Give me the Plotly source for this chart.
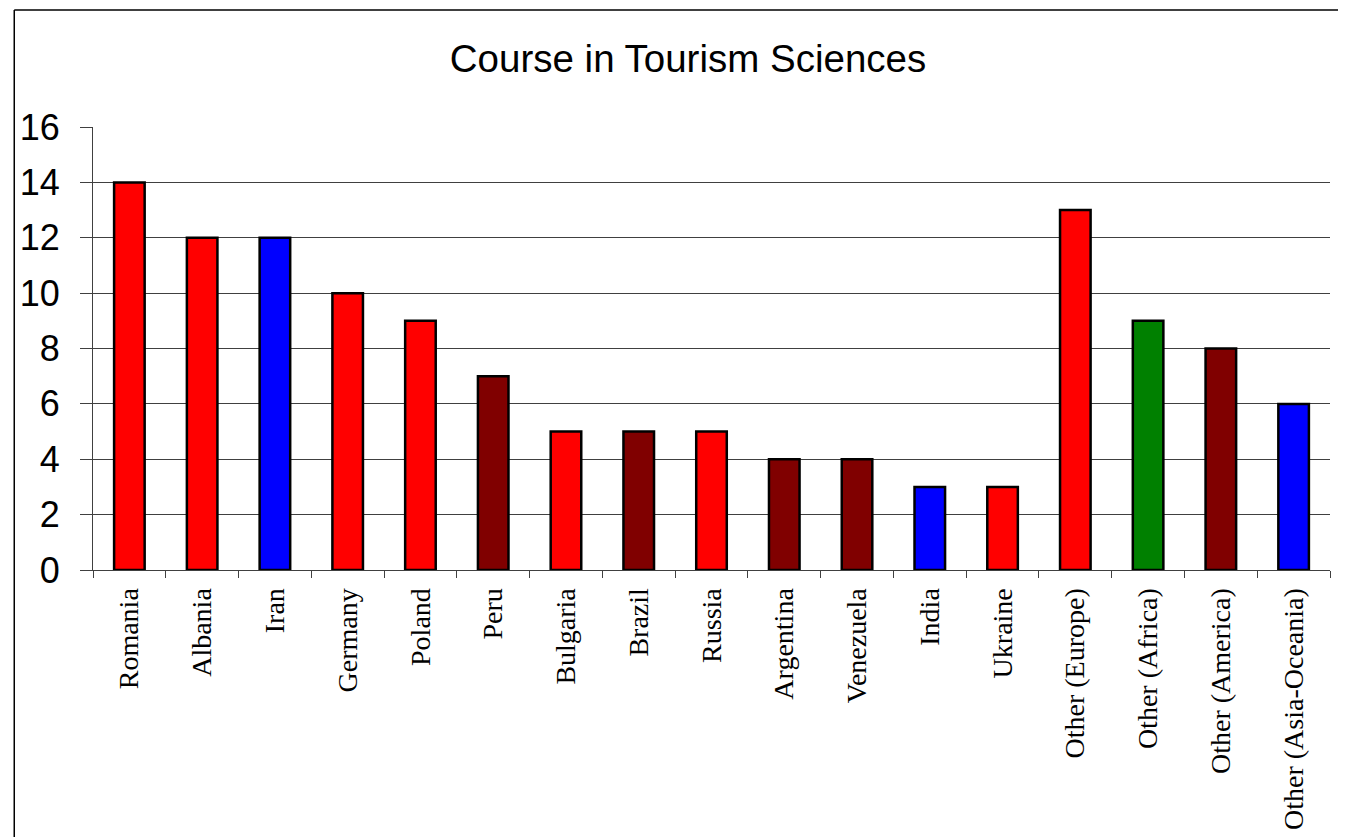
import plotly.graph_objects as go

categories = ["Romania", "Albania", "Iran", "Germany", "Poland", "Peru", "Bulgaria",
              "Brazil", "Russia", "Argentina", "Venezuela", "India", "Ukraine",
              "Other (Europe)", "Other (Africa)", "Other (America)", "Other (Asia-Oceania)"]
values = [14, 12, 12, 10, 9, 7, 5, 5, 5, 4, 4, 3, 3, 13, 9, 8, 6]
bar_colors = ["#FF0000", "#FF0000", "#0000FF", "#FF0000", "#FF0000", "#800000", "#FF0000",
              "#800000", "#FF0000", "#800000", "#800000", "#0000FF", "#FF0000",
              "#FF0000", "#008000", "#800000", "#0000FF"]
y_ticks = [0, 2, 4, 6, 8, 10, 12, 14, 16]

W, H = 1346, 837
OFF = 8  # page body margin offset
ML, MT = 89 - OFF, 127 - OFF
MR = W - (1330 - OFF)
MB = H - (570 - OFF)
pw = W - ML - MR
ph = H - MT - MB

def px_x(x):
    # screen x -> paper fraction
    return (x - OFF - ML) / pw

def px_y(y):
    # screen y -> paper fraction
    return (H - MB - (y - OFF)) / ph

fig = go.Figure(go.Bar(
    x=categories, y=values,
    marker=dict(color=bar_colors, line=dict(color="#000000", width=2.5)),
    width=0.42,
))

fig.update_layout(
    width=W, height=H,
    margin=dict(l=ML, r=MR, t=MT, b=MB),
    paper_bgcolor="white", plot_bgcolor="white",
    showlegend=False,
    title=dict(text="Course in Tourism Sciences", x=(688 - OFF) / W, xref="container",
               xanchor="center",
               y=1 - (59 - OFF) / H, yanchor="middle", yref="container",
               font=dict(family="Liberation Sans, Arial", size=38.5, color="#000000")),
)

fig.update_yaxes(
    range=[0, 16], tickvals=y_ticks,
    showgrid=True, gridcolor="#404040", gridwidth=1,
    showline=True, linecolor="#404040", linewidth=1,
    ticks="outside", ticklen=12, tickcolor="#404040", tickwidth=1,
    ticklabelstandoff=13,
    tickfont=dict(family="Liberation Sans, Arial", size=36, color="#000000"),
    zeroline=False,
)
fig.update_xaxes(
    tickangle=-90,
    showline=True, linecolor="#404040", linewidth=1,
    ticks="outside", ticklen=7, tickcolor="#404040", tickwidth=1,
    tickson="boundaries",
    ticklabelstandoff=6,
    tickfont=dict(family="Liberation Serif, Times New Roman", size=28, color="#000000"),
    showgrid=False,
)

# outer frame (left, top black; right gray)
fig.add_shape(type="line", xref="paper", yref="paper",
              x0=px_x(10), x1=px_x(10), y0=px_y(10), y1=px_y(900),
              line=dict(color="#000000", width=1.5))
fig.add_shape(type="line", xref="paper", yref="paper",
              x0=px_x(10), x1=px_x(1340), y0=px_y(10), y1=px_y(10),
              line=dict(color="#000000", width=1.5))
fig.add_shape(type="line", xref="paper", yref="paper",
              x0=px_x(1340), x1=px_x(1340), y0=px_y(10), y1=px_y(900),
              line=dict(color="#A0A0A0", width=1.5))

fig.write_html("out.html")
